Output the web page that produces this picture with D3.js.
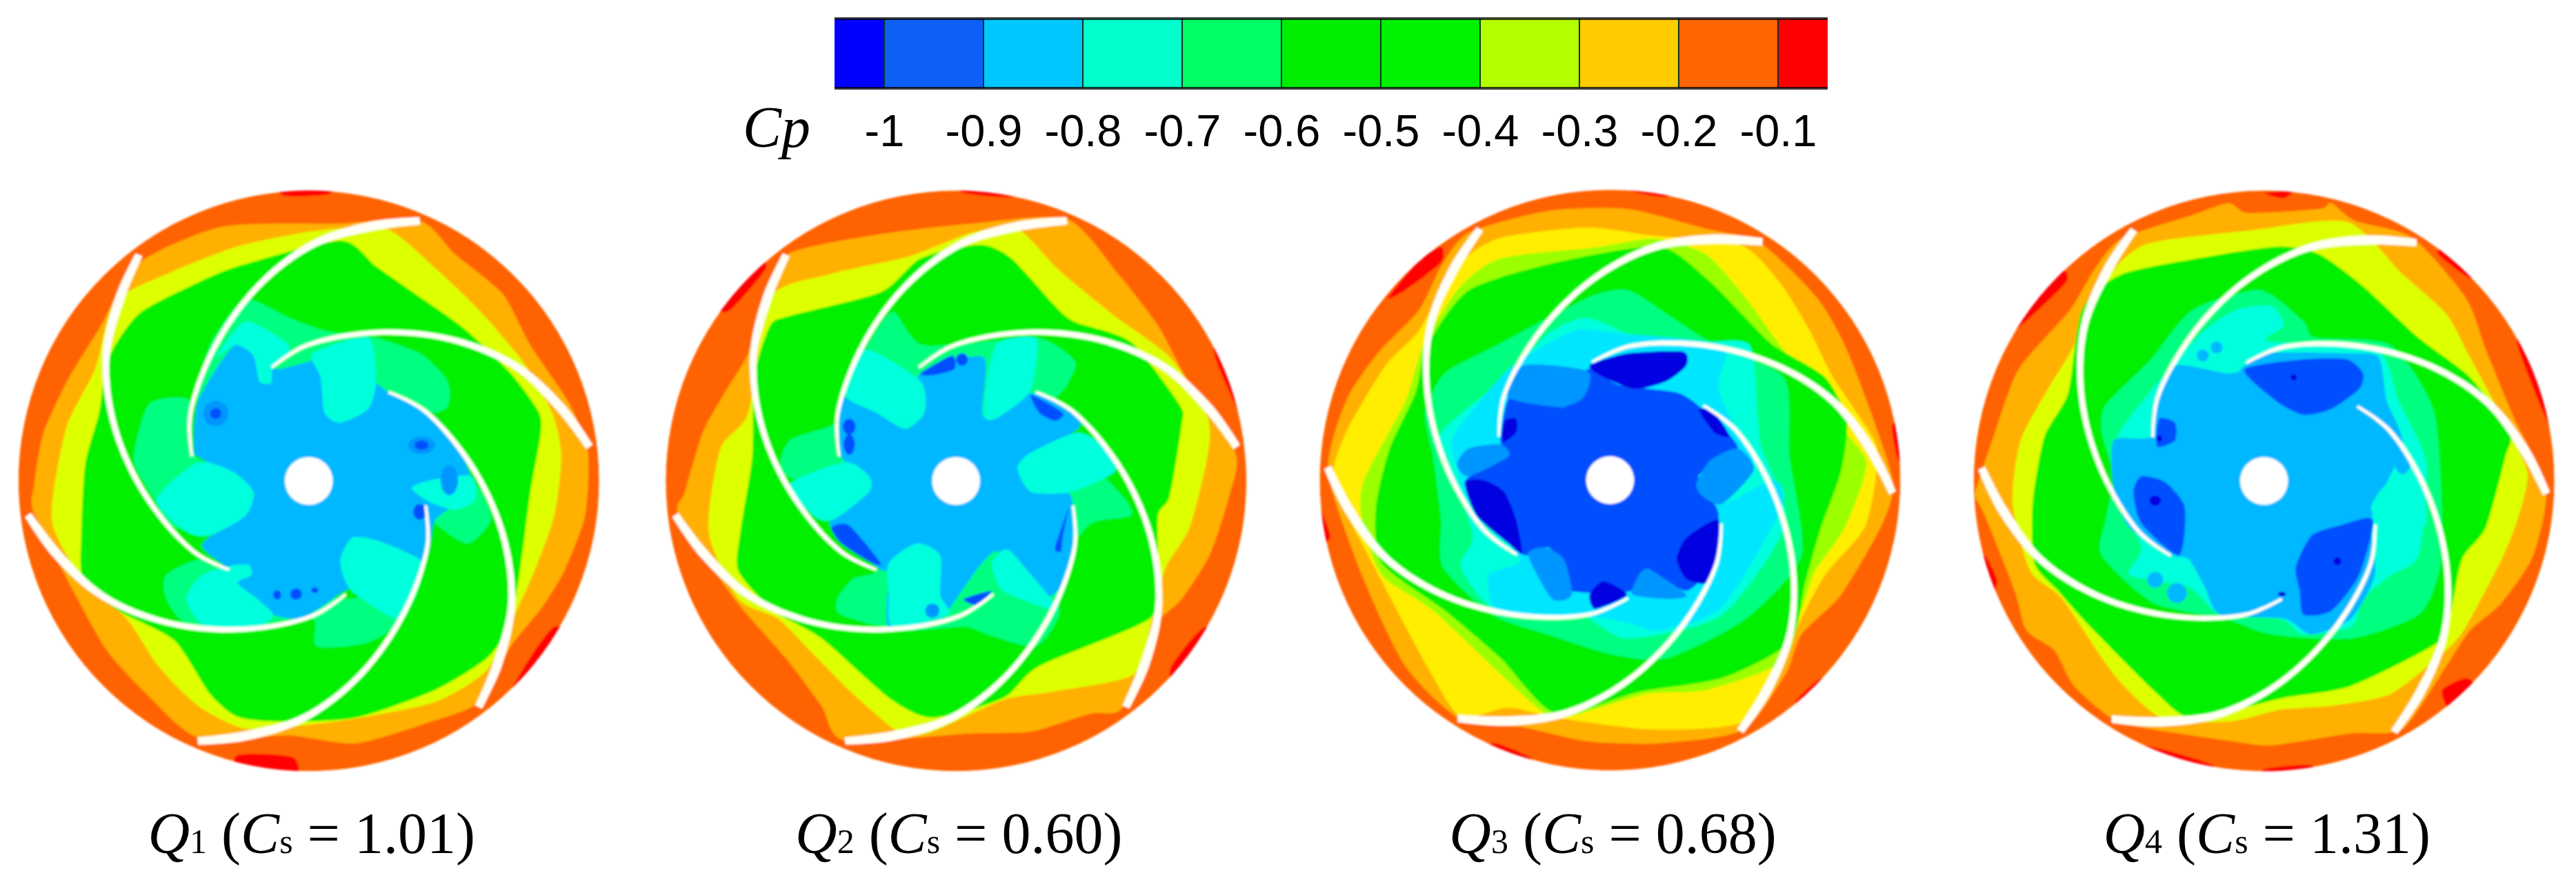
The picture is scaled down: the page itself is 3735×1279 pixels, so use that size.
<!DOCTYPE html>
<html>
<head>
<meta charset="utf-8">
<script src="https://cdnjs.cloudflare.com/ajax/libs/d3/7.8.5/d3.min.js"></script>
<style>html,body{margin:0;padding:0;background:#fff;}svg{display:block;}</style>
</head>
<body>
<div id="chart"></div>
<script>
// ---------- colour-bar data ----------
const cpTicks = [-1,-0.9,-0.8,-0.7,-0.6,-0.5,-0.4,-0.3,-0.2,-0.1];
const cpEdges = [-1.05,-1,-0.9,-0.8,-0.7,-0.6,-0.5,-0.4,-0.3,-0.2,-0.1,-0.05];
const cpBarColors = ["#0000ff","#0a60f5","#00c8ff","#00ffcc","#00ff66","#00ee00","#00f200","#b4ff00","#ffcc00","#ff6600","#ff0000"];
const cpTitle = "Cp";

// ---------- panel labels ----------
const flowNames = ["1","2","3","4"];
const csValues = ["1.01","0.60","0.68","1.31"];

// ---------- contour band colours ----------
const bandNames = ["red","orange","amber","yellow","pale","lime","green","mint","aqua","cyan","sky","azure","blue","dark"];
const bandColors = ["#ff0000","#ff6200","#ffb000","#ffee00","#deff00","#9cff00","#00f000","#00ff80","#00ffdc","#00e6ff","#00b8ff","#0096ff","#0050ff","#0000e0"];

// ---------- impeller blade profile (relative radius, angle in degrees, relative half width) ----------
const bladeCount = 6;
const bladeRadius = [0.411,0.465,0.560,0.690,0.815,0.905,0.974];
const bladeAngle  = [191.9,208.4,234.1,255.0,271.0,284.0,293.1];
const bladeHalf   = [0.005,0.007,0.009,0.010,0.012,0.016,0.013];
const bladeTurn   = [0,0,9.5,9.5];
const hubRadius = 0.0825;

// ---------- contour fields, Q1 ----------
const q1Contours = [
 ["red",[[700,10],[840,10],[830,38],[720,42]]],
 ["red",[[600,1455],[740,1460],[745,1520],[600,1520]]],
 ["red",[[1290,1295],[1400,1130],[1470,1200],[1350,1320]]],
 ["amber",[[345,215],[560,120],[850,112],[1060,105],[1150,190],[1270,290],[1340,420],[1440,570],[1485,690],[1478,850],[1425,990],[1370,1080],[1290,1180],[1210,1320],[1090,1370],[900,1425],[730,1405],[500,1410],[370,1300],[270,1190],[180,1030],[85,840],[85,780],[110,640],[175,500],[255,370]]],
 ["pale",[[290,310],[420,240],[600,170],[800,130],[975,125],[1100,225],[1210,330],[1320,460],[1395,590],[1418,700],[1400,850],[1350,990],[1300,1100],[1230,1240],[1100,1320],[900,1362],[780,1378],[620,1388],[500,1330],[400,1230],[320,1110],[200,1000],[135,880],[135,790],[170,620],[240,480]]],
 ["green",[[275,450],[350,340],[480,270],[600,220],[860,155],[950,220],[1050,290],[1170,375],[1290,490],[1362,590],[1365,650],[1340,790],[1312,1000],[1285,1130],[1230,1210],[1100,1290],[900,1360],[710,1370],[600,1358],[530,1300],[440,1165],[300,1090],[210,1010],[205,900],[215,720],[250,590]]],
 ["mint",[[500,560],[530,420],[620,305],[730,350],[830,385],[930,395],[1060,440],[1130,510],[1125,580],[1000,600],[800,560],[600,520]]],
 ["mint",[[345,660],[380,565],[480,560],[495,700],[640,800],[560,880],[440,880],[390,810],[340,720]]],
 ["mint",[[420,1000],[510,960],[620,1000],[880,1060],[1060,1000],[1020,1110],[930,1170],[800,1180],[790,1110],[640,1130],[480,1130],[420,1060]]],
 ["mint",[[1110,690],[1210,780],[1240,860],[1180,920],[1090,860],[1050,780]]],
 ["sky",[[490,690],[500,560],[590,420],[640,440],[700,480],[850,450],[985,540],[1100,600],[1170,700],[1190,790],[1100,860],[1075,960],[960,1000],[870,1040],[760,1110],[660,1095],[600,1095],[565,1050],[580,990],[510,925],[590,860],[640,790],[500,700]]],
 ["aqua",[[545,450],[620,360],[720,410],[730,440],[690,475],[685,515],[655,510],[640,445],[595,418]]],
 ["aqua",[[790,440],[930,400],[950,510],[930,580],[860,615],[820,590],[810,500]]],
 ["aqua",[[395,810],[500,715],[590,740],[640,790],[620,850],[530,900],[470,890]]],
 ["aqua",[[590,975],[630,975],[635,1000],[600,1020],[650,1060],[690,1100],[650,1130],[520,1130],[470,1060],[510,1000]]],
 ["aqua",[[860,960],[890,905],[960,915],[1060,960],[1060,1000],[1010,1110],[900,1050],[870,1010]]],
 ["aqua",[[1040,780],[1090,760],[1190,750],[1200,810],[1150,835],[1085,815]]]
];
const q1Spots = [
 ["azure",545,592,32,32],["blue",545,592,14,14],["azure",1065,672,34,22],["blue",1065,672,18,12],
 ["blue",1060,840,16,20],["azure",1135,760,22,38],["blue",700,1050,10,12],["blue",748,1048,15,14],["blue",795,1038,9,7]
];

// ---------- contour fields, Q2 ----------
const q2Contours = [
 ["red",[[770,10],[905,10],[900,45],[780,35]]],
 ["red",[[1410,430],[1480,430],[1500,600],[1470,580]]],
 ["red",[[1300,1240],[1390,1130],[1450,1200],[1340,1300]]],
 ["red",[[190,330],[280,225],[250,200],[160,320]]],
 ["amber",[[335,190],[560,140],[800,112],[1040,100],[1170,240],[1270,370],[1340,500],[1465,690],[1450,800],[1400,950],[1330,1060],[1262,1130],[1180,1335],[1100,1350],[950,1395],[800,1400],[480,1418],[420,1330],[330,1210],[200,1060],[60,850],[75,790],[120,640],[175,540],[235,440],[265,320]]],
 ["pale",[[290,300],[440,240],[640,195],[800,135],[915,125],[1020,230],[1160,345],[1300,450],[1395,600],[1395,700],[1350,880],[1290,980],[1255,1110],[1210,1250],[1000,1295],[880,1315],[700,1395],[620,1400],[500,1300],[400,1200],[310,1110],[210,1060],[135,890],[165,680],[235,590]]],
 ["green",[[290,370],[340,345],[570,285],[670,200],[820,165],[900,200],[1010,320],[1060,360],[1200,410],[1325,570],[1330,620],[1300,800],[1270,850],[1270,1000],[1250,1110],[970,1230],[880,1310],[700,1360],[590,1310],[420,1160],[300,1090],[210,990],[215,890],[245,700],[250,500]]],
 ["mint",[[480,560],[530,430],[600,335],[680,420],[960,400],[1060,460],[1040,520],[1000,600],[1180,800],[1200,850],[1100,870],[1020,980],[1020,1100],[960,1180],[840,1150],[780,1130],[620,1140],[470,1100],[460,1060],[500,1010],[560,990],[600,900],[450,800],[320,740],[340,660],[450,620]]],
 ["sky",[[470,700],[480,550],[640,630],[670,490],[830,450],[830,600],[950,540],[1075,620],[920,730],[1050,800],[1045,1000],[970,1060],[860,940],[740,1090],[720,1110],[590,1130],[590,1000],[560,980],[440,870],[545,770]]],
 ["aqua",[[480,545],[530,430],[670,510],[680,590],[630,630],[560,590]]],
 ["aqua",[[830,590],[860,420],[960,400],[960,480],[940,545],[860,605]]],
 ["aqua",[[340,770],[480,715],[540,750],[540,790],[450,860],[400,850]]],
 ["aqua",[[915,730],[950,690],[1070,640],[1150,690],[1160,740],[1050,790],[950,790]]],
 ["aqua",[[590,970],[660,920],[720,950],[720,1050],[740,1100],[600,1130],[590,1050]]],
 ["aqua",[[850,970],[890,935],[950,1000],[1000,1060],[1010,1090],[880,1040]]],
 ["blue",[[670,490],[750,445],[755,480],[700,495]]],
 ["blue",[[950,545],[1030,590],[1010,610],[970,590]]],
 ["blue",[[445,880],[490,875],[570,970],[540,965],[470,920]]],
 ["blue",[[1045,830],[1030,900],[1025,940],[1010,930]]],
 ["blue",[[780,1060],[850,1040],[810,1075]]]
];
const q2Spots = [
 ["blue",775,455,15,16],["blue",490,625,16,20],["blue",490,670,14,26],["azure",700,1090,18,18]
];

// ---------- contour fields, Q3 ----------
const q3Contours = [
 ["red",[[195,300],[270,210],[330,170],[330,210],[240,280]]],
 ["red",[[800,10],[905,10],[900,45],[810,30]]],
 ["red",[[1470,620],[1520,620],[1520,720],[1485,710]]],
 ["red",[[20,820],[50,900],[30,920],[10,840]]],
 ["red",[[470,1425],[560,1465],[520,1510],[440,1440]]],
 ["red",[[1225,1320],[1290,1260],[1320,1290],[1250,1350]]],
 ["amber",[[400,135],[600,80],[800,75],[1000,125],[1135,160],[1280,300],[1350,420],[1420,600],[1472,770],[1440,880],[1340,1050],[1240,1150],[1200,1250],[1090,1392],[880,1425],[700,1420],[540,1385],[380,1365],[240,1230],[130,1000],[45,740],[90,560],[170,440],[275,330],[330,220]]],
 ["yellow",[[375,215],[480,148],[700,122],[860,142],[1085,165],[1185,260],[1260,380],[1320,500],[1425,660],[1430,740],[1400,880],[1300,1000],[1235,1120],[1190,1230],[1090,1372],[860,1390],[620,1360],[500,1335],[380,1358],[300,1240],[180,1015],[60,770],[90,640],[190,470],[272,385]]],
 ["lime",[[375,275],[480,200],[720,172],[870,150],[1000,190],[1100,300],[1180,410],[1345,630],[1405,720],[1350,880],[1275,990],[1240,1090],[1190,1220],[1000,1290],[850,1300],[680,1350],[600,1355],[480,1250],[310,1090],[180,1000],[130,860],[135,760],[240,560],[285,420]]],
 ["green",[[295,420],[400,280],[620,210],[880,170],[1000,250],[1090,340],[1170,420],[1300,500],[1355,610],[1340,740],[1290,880],[1250,1020],[1210,1170],[1040,1260],[830,1295],[620,1350],[480,1210],[340,1090],[180,970],[165,830],[200,680],[265,540]]],
 ["mint",[[290,590],[340,490],[470,420],[700,300],[800,280],[900,340],[1000,405],[1195,500],[1210,700],[1240,950],[1100,1110],[900,1210],[760,1200],[600,1150],[460,1100],[335,980],[330,860],[310,700]]],
 ["aqua",[[330,640],[480,510],[600,390],[700,350],[830,400],[1000,410],[1110,420],[1130,600],[1140,680],[1200,870],[1040,1100],[800,1160],[680,1100],[470,1090],[380,980],[410,900],[350,720]]],
 ["cyan",[[360,650],[490,490],[590,420],[680,380],[790,390],[1040,420],[1030,520],[1060,600],[1120,700],[1040,820],[1170,760],[1190,830],[1040,1080],[880,1140],[800,1120],[680,1100],[480,1100],[450,1000],[530,960],[400,810],[370,730]]],
 ["blue",[[480,660],[510,540],[640,575],[700,480],[780,520],[930,540],[1000,590],[1080,680],[980,750],[1030,840],[1020,960],[950,1040],[850,985],[810,1040],[660,1040],[640,980],[600,930],[530,945],[390,770],[500,700]]],
 ["azure",[[500,550],[540,470],[700,485],[690,550],[630,575]]],
 ["azure",[[975,770],[1010,710],[1080,680],[1120,735],[1040,820],[990,800]]],
 ["azure",[[820,1020],[850,985],[950,1050],[900,1060],[815,1050]]],
 ["azure",[[550,950],[590,930],[640,960],[660,1050],[610,1060]]],
 ["azure",[[370,720],[400,680],[480,670],[500,700],[400,750]]],
 ["dark",[[705,470],[800,440],[940,435],[950,470],[900,510],[820,530],[740,500]]],
 ["dark",[[980,580],[1020,590],[1060,650],[1020,640]]],
 ["dark",[[490,610],[520,605],[520,640],[485,665]]],
 ["dark",[[390,765],[440,760],[490,790],[520,860],[535,945],[500,920],[420,850]]],
 ["dark",[[1030,860],[1025,960],[1000,1020],[950,1010],[925,960],[950,905]]],
 ["dark",[[705,1050],[740,1015],[800,1050],[720,1085]]]
];
const q3Spots = [];

// ---------- contour fields, Q4 ----------
const q4Contours = [
 ["red",[[780,35],[850,30],[830,48]]],
 ["red",[[1220,190],[1300,250],[1320,220],[1240,170]]],
 ["red",[[1420,420],[1500,620],[1530,600],[1440,400]]],
 ["red",[[1230,1290],[1290,1260],[1320,1290],[1250,1340]]],
 ["red",[[480,1430],[650,1480],[640,1520],[460,1460]]],
 ["red",[[780,1490],[900,1480],[900,1520],[780,1520]]],
 ["red",[[130,400],[280,260],[250,230],[100,380]]],
 ["red",[[75,950],[105,1010],[95,1040],[55,970]]],
 ["amber",[[420,150],[600,90],[690,60],[740,85],[920,75],[950,60],[1010,105],[1155,148],[1290,300],[1340,430],[1410,600],[1492,780],[1460,950],[1380,1070],[1300,1140],[1240,1230],[1130,1388],[1000,1400],[800,1430],[700,1420],[500,1390],[400,1365],[300,1280],[250,1190],[180,1140],[150,1040],[75,850],[50,800],[60,760],[100,640],[160,480],[290,330],[350,230]]],
 ["pale",[[375,260],[480,165],[740,130],[990,108],[1130,240],[1240,340],[1300,450],[1380,600],[1445,740],[1420,860],[1380,960],[1290,1130],[1240,1190],[1100,1300],[950,1330],[820,1340],[690,1370],[520,1360],[400,1250],[270,1060],[190,990],[145,820],[165,660],[240,520],[295,430]]],
 ["green",[[320,330],[420,240],[640,195],[820,170],[920,190],[1030,270],[1170,400],[1300,500],[1400,640],[1390,700],[1340,880],[1280,960],[1250,1100],[1220,1170],[1000,1280],[830,1310],[600,1360],[510,1300],[340,1130],[260,1040],[200,970],[195,820],[225,650],[285,540]]],
 ["mint",[[370,640],[380,570],[490,460],[600,330],[770,280],[880,360],[910,400],[1100,420],[1210,590],[1230,880],[1220,1000],[1170,1100],[1000,1160],[800,1150],[680,1110],[500,1070],[370,950],[380,860],[400,750]]],
 ["aqua",[[410,650],[490,540],[620,390],[710,330],[800,320],[830,370],[790,410],[1060,425],[1120,560],[1190,720],[1170,950],[1100,1000],[1030,1060],[1000,1130],[880,1150],[820,1110],[670,1100],[590,1030],[440,1000],[470,930],[400,780]]],
 ["sky",[[400,660],[495,650],[510,540],[560,470],[700,490],[780,440],[1000,440],[1070,450],[1090,560],[1130,670],[1060,830],[1050,880],[1060,1000],[1000,1110],[900,1150],[830,1110],[670,1100],[630,1030],[590,960],[550,950],[440,880],[400,780]]],
 ["aqua",[[1050,830],[1090,770],[1170,750],[1190,860],[1140,950],[1090,1000],[1080,880]]],
 ["aqua",[[610,460],[650,420],[720,480],[680,490]]],
 ["blue",[[730,480],[880,455],[990,455],[1030,490],[1020,530],[950,580],[880,595],[810,560]]],
 ["blue",[[515,605],[555,615],[555,660],[510,675]]],
 ["blue",[[470,750],[530,765],[580,830],[565,950],[470,870],[450,790]]],
 ["blue",[[1055,860],[1020,1000],[950,1090],[880,1100],[870,1040],[860,980],[900,900],[970,875]]]
];
const q4Spots = [
 ["sky",660,425,15,15],["sky",625,445,15,15],["sky",505,1012,20,20],["sky",560,1045,25,25],["sky",1130,715,20,30],
 ["dark",855,500,8,8],["dark",505,812,15,13],["dark",965,965,10,10],["dark",515,655,8,8],["dark",825,1048,10,6]
];
const panelContours = [q1Contours,q2Contours,q3Contours,q4Contours];
const panelSpots = [q1Spots,q2Spots,q3Spots,q4Spots];
const fieldExtent = [0,1568];
const fieldHubs = [[780,762],[760,762],[757,760],[780,762]];

// ---------- layout ----------
const W = 3735, H = 1279;
const panelLeft = [0,950,1900,2835], panelTop = 260, panelSize = 900;
const discR = 421;
const svg = d3.select("#chart").append("svg").attr("width",W).attr("height",H).attr("viewBox",[0,0,W,H]);
svg.append("rect").attr("width",W).attr("height",H).attr("fill","#fff");
const defs = svg.append("defs");
const blur = defs.append("filter").attr("id","soft").attr("x","-5%").attr("y","-5%").attr("width","110%").attr("height","110%");
blur.append("feGaussianBlur").attr("stdDeviation",1.8);
const textBlur = defs.append("filter").attr("id","softText").attr("x","-5%").attr("y","-20%").attr("width","110%").attr("height","140%");
textBlur.append("feGaussianBlur").attr("stdDeviation",0.7);

// ---------- colour bar ----------
const cpX = d3.scaleLinear().domain([-1,-0.1]).range([1282,2578]);
const barTop = 27, barBottom = 128;
const bar = svg.append("g").attr("filter","url(#softText)");
bar.selectAll("rect.swatch").data(cpBarColors).join("rect").attr("class","swatch")
  .attr("x",(d,i)=>cpX(cpEdges[i])).attr("width",(d,i)=>cpX(cpEdges[i+1])-cpX(cpEdges[i]))
  .attr("y",barTop).attr("height",barBottom-barTop).attr("fill",d=>d);
bar.selectAll("line.sep").data(cpTicks).join("line").attr("class","sep")
  .attr("x1",d=>cpX(d)).attr("x2",d=>cpX(d)).attr("y1",barTop).attr("y2",barBottom)
  .attr("stroke","#10301a").attr("stroke-width",2);
[barTop,barBottom].forEach(y=>bar.append("line").attr("x1",cpX(-1.05)).attr("x2",cpX(-0.05)).attr("y1",y).attr("y2",y).attr("stroke","#000").attr("stroke-opacity",0.75).attr("stroke-width",4));

const axis = d3.axisBottom(cpX).tickValues(cpTicks).tickSize(0).tickPadding(0).tickFormat(d=>String(d));
const axisG = svg.append("g").attr("transform","translate(0,162)").call(axis);
axisG.select(".domain").remove();
axisG.selectAll("text").attr("font-family","'Liberation Sans'").attr("font-size",65).attr("fill","#000").attr("dy",0).attr("y",50).attr("dominant-baseline","alphabetic");
svg.append("text").text(cpTitle).attr("x",1077).attr("y",213).attr("font-family","'Liberation Serif'").attr("font-style","italic").attr("font-size",84).attr("fill","#000");

// ---------- discs ----------
const curve = d3.line().curve(d3.curveCardinalClosed.tension(0.3));
const open = d3.line().curve(d3.curveCatmullRom.alpha(0.5));
const colorOf = d3.scaleOrdinal().domain(bandNames).range(bandColors);

panelLeft.forEach((left,p)=>{
  const fx = d3.scaleLinear().domain(fieldExtent).range([left,left+panelSize]);
  const fy = d3.scaleLinear().domain(fieldExtent).range([panelTop,panelTop+panelSize]);
  const cx = fx(fieldHubs[p][0]), cy = fy(fieldHubs[p][1]);
  const rel = d3.scaleLinear().domain([0,1]).range([0,discR]);
  const clipId = "disc"+p;
  defs.append("clipPath").attr("id",clipId).append("circle").attr("cx",cx).attr("cy",cy).attr("r",discR);
  const outer = svg.append("g").attr("filter","url(#soft)");
  const g = outer.append("g").attr("clip-path",`url(#${clipId})`);
  g.append("circle").attr("cx",cx).attr("cy",cy).attr("r",discR).attr("fill",colorOf("orange"));
  g.selectAll("path.band").data(panelContours[p]).join("path").attr("class","band")
    .attr("d",d=>curve(d[1].map(q=>[fx(q[0]),fy(q[1])])))
    .attr("fill",d=>colorOf(d[0]));
  g.selectAll("ellipse.spot").data(panelSpots[p]).join("ellipse").attr("class","spot")
    .attr("cx",d=>fx(d[1])).attr("cy",d=>fy(d[2]))
    .attr("rx",d=>fx(d[3])-fx(0)).attr("ry",d=>fy(d[4])-fy(0))
    .attr("fill",d=>colorOf(d[0]));
  // blades
  const bladeIdx = d3.range(bladeCount);
  const polar = (r,a)=>[cx+rel(r)*Math.cos(a*Math.PI/180),cy+rel(r)*Math.sin(a*Math.PI/180)];
  g.selectAll("path.blade").data(bladeIdx).join("path").attr("class","blade")
    .attr("d",k=>{
      const turn = bladeTurn[p]+k*360/bladeCount;
      const centre = bladeRadius.map((r,i)=>polar(r,bladeAngle[i]+turn));
      const left_=[], right_=[];
      centre.forEach((c,i)=>{
        const a = centre[Math.max(i-1,0)], b = centre[Math.min(i+1,centre.length-1)];
        const dx=b[0]-a[0], dy=b[1]-a[1], L=Math.hypot(dx,dy), w=rel(bladeHalf[i]);
        left_.push([c[0]-dy/L*w,c[1]+dx/L*w]);
        right_.push([c[0]+dy/L*w,c[1]-dx/L*w]);
      });
      return open(left_)+"L"+open(right_.reverse()).slice(1)+"Z";
    })
    .attr("fill","#fffff6");
  outer.append("circle").attr("cx",cx).attr("cy",cy).attr("r",rel(hubRadius)).attr("fill","#fff");

  // label
  const lab = svg.append("text").attr("x",cx+4).attr("y",1237).attr("text-anchor","middle")
    .attr("font-family","'Liberation Serif'").attr("font-size",84).attr("fill","#000");
  lab.append("tspan").attr("font-style","italic").text("Q");
  lab.append("tspan").attr("font-size",50).text(flowNames[p]);
  lab.append("tspan").text(" (");
  lab.append("tspan").attr("font-style","italic").text("C");
  lab.append("tspan").attr("font-size",50).text("s");
  lab.append("tspan").text(" = "+csValues[p]+")");
});
</script>
</body>
</html>
